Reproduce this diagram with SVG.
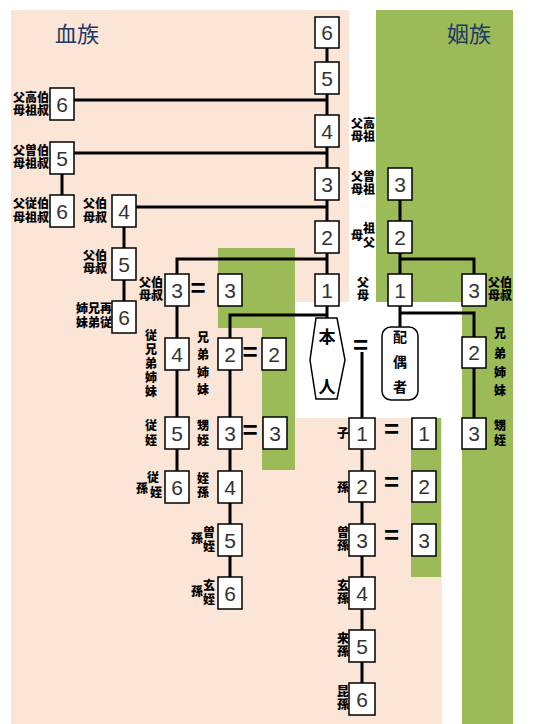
<svg xmlns="http://www.w3.org/2000/svg" width="535" height="724" viewBox="0 0 535 724">
<style>
.box{fill:#fff;stroke:#000;stroke-width:1.5}
.num{font-family:"Liberation Sans",Arial,sans-serif;font-size:21px;fill:#333;text-anchor:middle}
.lbl{font-family:"Noto Sans CJK JP",sans-serif;font-size:12px;font-weight:900;fill:#000;text-anchor:middle}
.big{font-family:"Noto Sans CJK JP",sans-serif;font-weight:bold;fill:#000;text-anchor:middle}
.ln{fill:none;stroke:#000;stroke-width:3}
.eq{font-family:"Liberation Sans",Arial,sans-serif;font-weight:bold;font-size:26px;text-anchor:middle;fill:#000}
.title{font-family:"Noto Sans CJK JP",sans-serif;font-size:22px;fill:#1f3864}
</style>
<g id="background">
<path fill="#fbe5d6" d="M11 10H349V302H295V418H442V724H11Z"/>
<path fill="#9bbb59" d="M376 10H513V724H462V302H376Z"/>
<path fill="#9bbb59" d="M218 248H295V470H262V328H218Z"/>
<path fill="#9bbb59" d="M411 418H441V577H411Z"/>
<text class="title" x="55" y="42">血族</text>
<text class="title" x="447" y="42">姻族</text>
</g>
<g id="connectors">
<path class="ln" d="M327 48V318"/>
<path class="ln" d="M74 100H327"/>
<path class="ln" d="M74 153H327"/>
<path class="ln" d="M62 174V195"/>
<path class="ln" d="M136 207H327"/>
<path class="ln" d="M124 227V301"/>
<path class="ln" d="M177 306V259H327"/>
<path class="ln" d="M177 306V471"/>
<path class="ln" d="M230 577V315H327"/>
<path class="ln" d="M362 352V683"/>
<path class="ln" d="M400 200V327"/>
<path class="ln" d="M400 259H474V274"/>
<path class="ln" d="M400 313H474V418"/>
</g>
<g id="m6"><rect class="box" x="315" y="17" width="24" height="31"/><text class="num" x="327" y="40">6</text></g>
<g id="m5"><rect class="box" x="315" y="62" width="24" height="32"/><text class="num" x="327" y="85.5">5</text></g>
<g id="m4"><text class="lbl"><tspan x="363" y="127.5">父高</tspan><tspan x="363" y="140.5">母祖</tspan></text><rect class="box" x="315" y="115" width="24" height="32"/><text class="num" x="327" y="138.5">4</text></g>
<g id="m3"><text class="lbl"><tspan x="363" y="180.5">父曽</tspan><tspan x="363" y="193.5">母祖</tspan></text><rect class="box" x="315" y="168" width="24" height="32"/><text class="num" x="327" y="191.5">3</text></g>
<g id="m2"><text class="lbl"><tspan x="357" y="239.5">母</tspan><tspan x="369" y="232.5">祖</tspan><tspan x="369" y="246.5">父</tspan></text><rect class="box" x="315" y="221" width="24" height="32"/><text class="num" x="327" y="244.5">2</text></g>
<g id="m1"><text class="lbl"><tspan x="363" y="286.5">父</tspan><tspan x="363" y="299.5">母</tspan></text><rect class="box" x="315" y="274" width="24" height="32"/><text class="num" x="327" y="297.5">1</text></g>
<g id="L6a"><text class="lbl"><tspan x="31" y="101.5">父高伯</tspan><tspan x="31" y="114.5">母祖叔</tspan></text><rect class="box" x="50" y="88" width="24" height="32"/><text class="num" x="62" y="111.5">6</text></g>
<g id="L5"><text class="lbl"><tspan x="31" y="154.5">父曽伯</tspan><tspan x="31" y="167.5">母祖叔</tspan></text><rect class="box" x="50" y="142" width="24" height="32"/><text class="num" x="62" y="165.5">5</text></g>
<g id="L6b"><text class="lbl"><tspan x="31" y="207.5">父従伯</tspan><tspan x="31" y="221.5">母祖叔</tspan></text><rect class="box" x="50" y="195" width="24" height="32"/><text class="num" x="62" y="218.5">6</text></g>
<g id="L4"><text class="lbl"><tspan x="95" y="207.5">父伯</tspan><tspan x="95" y="221.5">母叔</tspan></text><rect class="box" x="112" y="195" width="24" height="32"/><text class="num" x="124" y="218.5">4</text></g>
<g id="L5b"><text class="lbl"><tspan x="95" y="259.5">父伯</tspan><tspan x="95" y="272.5">母叔</tspan></text><rect class="box" x="112" y="248" width="24" height="32"/><text class="num" x="124" y="271.5">5</text></g>
<g id="L6c"><text class="lbl"><tspan x="94" y="312.5">姉兄再</tspan><tspan x="94" y="326.5">妹弟従</tspan></text><rect class="box" x="112" y="301" width="24" height="32"/><text class="num" x="124" y="324.5">6</text></g>
<g id="U3"><text class="lbl"><tspan x="151" y="286.5">父伯</tspan><tspan x="151" y="299.5">母叔</tspan></text><rect class="box" x="165" y="274" width="24" height="32"/><text class="num" x="177" y="297.5">3</text><text class="eq" x="198" y="296.6">=</text></g>
<g id="U3s"><rect class="box" x="218" y="274" width="24" height="32"/><text class="num" x="230" y="297.5">3</text></g>
<g id="C4"><text class="lbl"><tspan x="151" y="339.5">従</tspan><tspan x="151" y="353.5">兄</tspan><tspan x="151" y="367.5">弟</tspan><tspan x="151" y="381.5">姉</tspan><tspan x="151" y="395.5">妹</tspan></text><rect class="box" x="165" y="338" width="24" height="32"/><text class="num" x="177" y="361.5">4</text></g>
<g id="C5"><text class="lbl"><tspan x="151" y="429.5">従</tspan><tspan x="151" y="444.5">姪</tspan></text><rect class="box" x="165" y="417" width="24" height="32"/><text class="num" x="177" y="440.5">5</text></g>
<g id="C6"><text class="lbl"><tspan x="153" y="481.5">従</tspan><tspan x="142" y="492.5">孫</tspan><tspan x="156" y="496.5">姪</tspan></text><rect class="box" x="165" y="471" width="24" height="32"/><text class="num" x="177" y="494.5">6</text></g>
<g id="S2"><text class="lbl"><tspan x="203" y="341.5">兄</tspan><tspan x="203" y="358.5">弟</tspan><tspan x="203" y="376.5">姉</tspan><tspan x="203" y="393.5">妹</tspan></text><rect class="box" x="218" y="338" width="24" height="32"/><text class="num" x="230" y="361.5">2</text><text class="eq" x="250" y="360.6">=</text></g>
<g id="S2s"><rect class="box" x="262" y="338" width="24" height="32"/><text class="num" x="274" y="361.5">2</text></g>
<g id="N3"><text class="lbl"><tspan x="203" y="429.5">甥</tspan><tspan x="203" y="444.5">姪</tspan></text><rect class="box" x="218" y="417" width="24" height="32"/><text class="num" x="230" y="440.5">3</text><text class="eq" x="250" y="439">=</text></g>
<g id="N3s"><rect class="box" x="263" y="417" width="24" height="32"/><text class="num" x="275" y="440.5">3</text></g>
<g id="N4"><text class="lbl"><tspan x="203" y="482.5">姪</tspan><tspan x="203" y="496.5">孫</tspan></text><rect class="box" x="218" y="471" width="24" height="32"/><text class="num" x="230" y="494.5">4</text></g>
<g id="N5"><text class="lbl"><tspan x="209" y="536.5">曽</tspan><tspan x="197" y="542.5">孫</tspan><tspan x="209" y="550.5">姪</tspan></text><rect class="box" x="218" y="524" width="24" height="32"/><text class="num" x="230" y="547.5">5</text></g>
<g id="N6"><text class="lbl"><tspan x="209" y="589.5">玄</tspan><tspan x="197" y="595.5">孫</tspan><tspan x="209" y="603.5">姪</tspan></text><rect class="box" x="218" y="577" width="24" height="32"/><text class="num" x="230" y="600.5">6</text></g>
<g id="honnin"><polygon class="box" points="316,318 337,318 345,360 337,399 316,399 310,360"/><text class="big" font-size="17"><tspan x="327" y="343">本</tspan><tspan x="327" y="393">人</tspan></text><text class="eq" x="360.5" y="354" font-size="34">=</text></g>
<g id="haiusha"><rect class="box" x="382" y="327" width="36" height="73" rx="9"/><text class="big" font-size="14"><tspan x="400" y="342">配</tspan><tspan x="400" y="367">偶</tspan><tspan x="400" y="392">者</tspan></text></g>
<g id="K1"><text class="lbl" x="343" y="437.5">子</text><rect class="box" x="349" y="418" width="26" height="31"/><text class="num" x="362" y="441">1</text><text class="eq" x="391.5" y="437.6">=</text></g>
<g id="K1s"><rect class="box" x="412" y="418" width="24" height="31"/><text class="num" x="424" y="441">1</text></g>
<g id="K2"><text class="lbl" x="343" y="491.5">孫</text><rect class="box" x="349" y="471" width="26" height="31"/><text class="num" x="362" y="494">2</text><text class="eq" x="391.5" y="491">=</text></g>
<g id="K2s"><rect class="box" x="412" y="471" width="24" height="31"/><text class="num" x="424" y="494">2</text></g>
<g id="K3"><text class="lbl"><tspan x="343" y="536.5">曽</tspan><tspan x="343" y="549.5">孫</tspan></text><rect class="box" x="349" y="524" width="26" height="32"/><text class="num" x="362" y="547.5">3</text><text class="eq" x="391.5" y="544">=</text></g>
<g id="K3s"><rect class="box" x="412" y="524" width="24" height="32"/><text class="num" x="424" y="547.5">3</text></g>
<g id="K4"><text class="lbl"><tspan x="343" y="589.5">玄</tspan><tspan x="343" y="602.5">孫</tspan></text><rect class="box" x="349" y="577" width="26" height="32"/><text class="num" x="362" y="600.5">4</text></g>
<g id="K5"><text class="lbl"><tspan x="343" y="642.5">来</tspan><tspan x="343" y="655.5">孫</tspan></text><rect class="box" x="349" y="630" width="26" height="32"/><text class="num" x="362" y="653.5">5</text></g>
<g id="K6"><text class="lbl"><tspan x="343" y="695.5">昆</tspan><tspan x="343" y="708.5">孫</tspan></text><rect class="box" x="349" y="683" width="26" height="32"/><text class="num" x="362" y="706.5">6</text></g>
<g id="SP3"><rect class="box" x="388" y="168" width="24" height="32"/><text class="num" x="400" y="191.5">3</text></g>
<g id="SP2"><rect class="box" x="388" y="221" width="24" height="32"/><text class="num" x="400" y="244.5">2</text></g>
<g id="SP1"><rect class="box" x="388" y="274" width="24" height="32"/><text class="num" x="400" y="297.5">1</text></g>
<g id="SPU3"><rect class="box" x="462" y="274" width="24" height="32"/><text class="num" x="474" y="297.5">3</text><text class="lbl"><tspan x="500" y="286.5">父伯</tspan><tspan x="500" y="299.5">母叔</tspan></text></g>
<g id="SPS2"><rect class="box" x="462" y="337" width="24" height="31"/><text class="num" x="474" y="360">2</text><text class="lbl"><tspan x="500" y="337.5">兄</tspan><tspan x="500" y="357.5">弟</tspan><tspan x="500" y="376.5">姉</tspan><tspan x="500" y="394.5">妹</tspan></text></g>
<g id="SPN3"><rect class="box" x="462" y="418" width="24" height="31"/><text class="num" x="474" y="441">3</text><text class="lbl"><tspan x="500" y="429.5">甥</tspan><tspan x="500" y="444.5">姪</tspan></text></g>
</svg>
